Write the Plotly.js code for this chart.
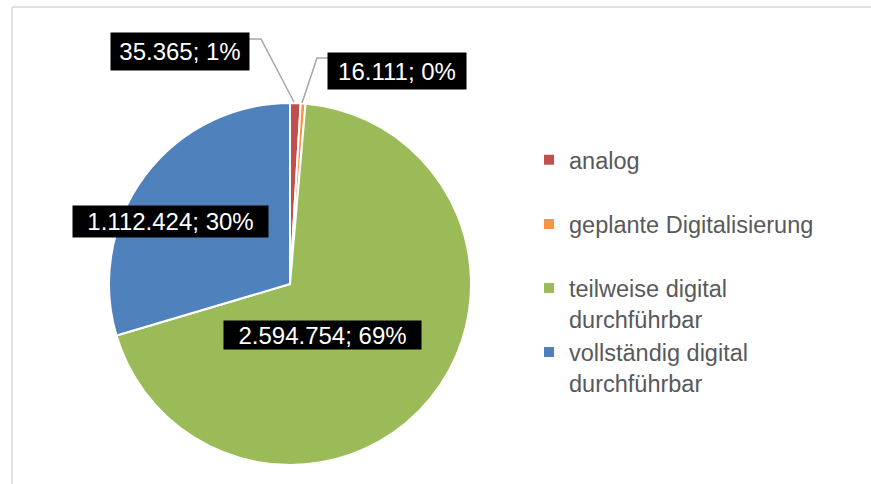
<!DOCTYPE html>
<html>
<head>
<meta charset="utf-8">
<script src="https://cdn.plot.ly/plotly-3.0.1.min.js"></script>
<style>html,body{margin:0;padding:0;background:#fff;}#chart{width:871px;height:484px;}</style>
</head>
<body>
<div id="chart"></div>
<script>
// ---- data ----
const categories = ['analog', 'geplante Digitalisierung', 'teilweise digital durchführbar', 'vollständig digital durchführbar'];
const values = [35365, 16111, 2594754, 1112424];
const colors = ['#c0504d', '#f79646', '#9bbb59', '#4f81bd'];

// ---- helpers ----
const W = 871, H = 484;
const px = x => x / W;
const py = y => 1 - y / H;
const total = values.reduce((a, b) => a + b, 0);
const fmt = v => String(v).replace(/\B(?=(\d{3})+(?!\d))/g, '.');
const labelText = i => fmt(values[i]) + '; ' + Math.round(values[i] / total * 100) + '%';

// legend labels (wrapping / spacing only)
const legendLabels = categories.map(c => c.includes(' durchführbar')
  ? c.replace(' durchführbar', '<br>durchführbar')
  : c + '<br> ');

// label box layout (pixel boxes: left, top, right, bottom)
const boxes = [
  [111, 33, 249, 70],
  [328, 53, 466, 89],
  [224, 321, 421, 349],
  [73, 206, 268, 237]
];

const annotations = boxes.map((b, i) => ({
  xref: 'paper', yref: 'paper',
  x: px((b[0] + b[2]) / 2), y: py((b[1] + b[3]) / 2),
  xanchor: 'center', yanchor: 'middle',
  width: b[2] - b[0], height: b[3] - b[1],
  text: labelText(i), showarrow: false,
  bgcolor: '#000000', borderpad: 0,
  font: {family: 'Liberation Sans, Arial, sans-serif', size: 24, color: '#ffffff'}
}));

const pathOf = pts => 'M' + pts.map(p => px(p[0]) + ',' + py(p[1])).join(' L');
const leader = {type: 'path', xref: 'paper', yref: 'paper', line: {color: '#a6a6a6', width: 1.5}};
const shapes = [
  Object.assign({}, leader, {path: pathOf([[249, 39], [261, 39], [294, 102]])}),
  Object.assign({}, leader, {path: pathOf([[328, 58], [317, 58], [302, 103]])}),
  {type: 'line', xref: 'paper', yref: 'paper', x0: px(12), x1: 1, y0: py(7), y1: py(7), line: {color: '#d9d9d9', width: 1.5}},
  {type: 'line', xref: 'paper', yref: 'paper', x0: px(12), x1: px(12), y0: py(7), y1: 0, line: {color: '#d9d9d9', width: 1.5}}
];

const trace = {
  type: 'pie',
  labels: legendLabels,
  values: values,
  marker: {colors: colors, line: {color: '#ffffff', width: 2}},
  sort: false,
  direction: 'clockwise',
  rotation: 0,
  textinfo: 'none',
  hoverinfo: 'label+value+percent',
  domain: {x: [px(109), px(471)], y: [py(465), py(103)]}
};

const layout = {
  width: W, height: H,
  margin: {l: 0, r: 0, t: 0, b: 0},
  paper_bgcolor: '#ffffff',
  showlegend: true,
  legend: {
    x: px(529), y: py(138), xanchor: 'left', yanchor: 'top',
    valign: 'top',
    font: {family: 'Liberation Sans, Arial, sans-serif', size: 23.5, color: '#595959'},
    bgcolor: 'rgba(0,0,0,0)'
  },
  annotations: annotations,
  shapes: shapes
};

Plotly.newPlot('chart', [trace], layout, {displayModeBar: false, staticPlot: true});
</script>
</body>
</html>
